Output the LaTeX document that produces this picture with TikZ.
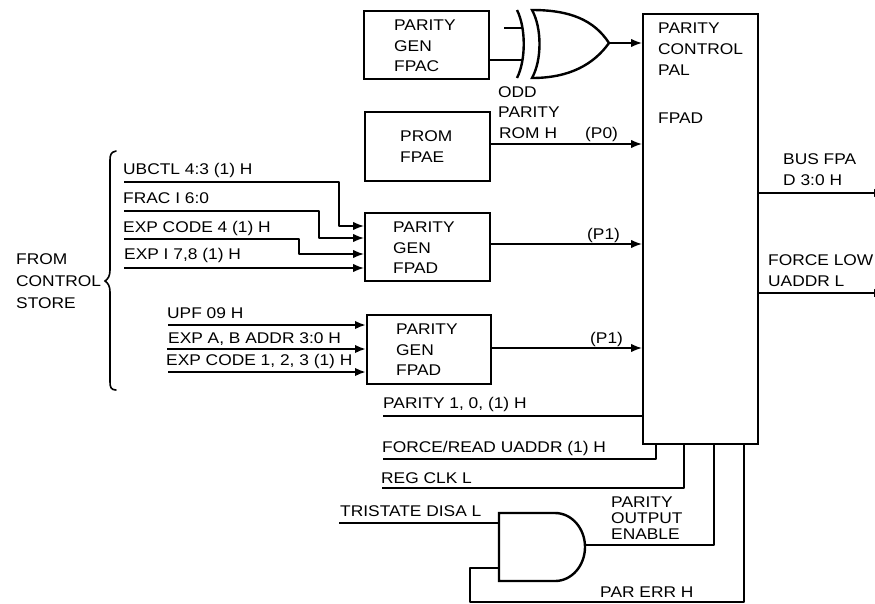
\documentclass[tikz,border=0pt]{standalone}
\usepackage{fontspec}
\setmainfont[FakeStretch=1.12]{Liberation Sans}
\usetikzlibrary{arrows.meta}
\tikzset{
  x=1pt,y=-1pt,
  wire/.style={line width=1.6pt,line join=round},
  hwire/.style={line width=2.2pt,line join=round},
  arr/.style={-{Latex[length=11pt,width=8.5pt]}},
  blockbox/.style={draw,line width=2.4pt,inner sep=0pt},
  lbl/.style={font=\fontsize{15.5}{18}\selectfont,anchor=west,inner sep=0pt,text height=11pt,text depth=0pt},
}
\begin{document}
\begin{tikzpicture}
\useasboundingbox (0,0) rectangle (875,603);
\fill[white] (0,0) rectangle (875,603);
% blocks
\node[blockbox,minimum width=125pt,minimum height=68pt,anchor=north west] (fpac) at (363,10) {};
\node[blockbox,minimum width=125pt,minimum height=69pt,anchor=north west] (fpae) at (364,111) {};
\node[blockbox,minimum width=125pt,minimum height=68pt,anchor=north west] (fpad1) at (364,212) {};
\node[blockbox,minimum width=124pt,minimum height=69pt,anchor=north west] (fpad2) at (366,314) {};
\node[blockbox,minimum width=115pt,minimum height=430pt,anchor=north west] (pal) at (642,13) {};
% block labels
\node[lbl] (t1) at (394,25) {PARITY};
\node[lbl] (t2) at (394,46) {GEN};
\node[lbl] (t3) at (394,66) {FPAC};
\node[lbl] (t4) at (400,136) {PROM};
\node[lbl] (t5) at (400,157) {FPAE};
\node[lbl] (t6) at (393,227) {PARITY};
\node[lbl] (t7) at (393,248) {GEN};
\node[lbl] (t8) at (393,268) {FPAD};
\node[lbl] (t9) at (396,329) {PARITY};
\node[lbl] (t10) at (396,350) {GEN};
\node[lbl] (t11) at (396,370) {FPAD};
\node[lbl] (t12) at (658,28) {PARITY};
\node[lbl] (t13) at (658,49) {CONTROL};
\node[lbl] (t14) at (658,70) {PAL};
\node[lbl] (t15) at (658,118) {FPAD};
% XOR
\coordinate (xa) at (517,10);
\coordinate (xb) at (517,78);
\draw[line width=2.4pt] (xa) .. controls (526,28) and (526,60) .. (xb);
\coordinate (xt) at (609,43);
\draw[line width=2.4pt,line join=miter] (532,10) .. controls (570,10) and (594,20) .. (xt) .. controls (594,64) and (570,78) .. (532,78) .. controls (542,60) and (542,28) .. cycle;
\coordinate (xi1) at (504,28);
\coordinate (xi1e) at (523,28);
\coordinate (xi2e) at (523,60);
\draw[wire] (xi1) -- (xi1e);
\draw[wire] (fpac.east |- xi2e) -- (xi2e);
\draw[wire,arr] (xt) -- (pal.west |- xt);
\draw[wire,arr] (fpae.east |- 0,144) -- (pal.west |- 0,144);
\draw[wire,arr] (fpad1.east |- 0,244) -- (pal.west |- 0,244);
\draw[wire,arr] (fpad2.east |- 0,348) -- (pal.west |- 0,348);
\node[lbl] (o1) at (498,92) {ODD};
\node[lbl] (o2) at (498,112) {PARITY};
\node[lbl] (o3) at (499,133) {ROM H};
\node[lbl] (p0) at (585,133) {(P0)};
\node[lbl] (p1) at (587,234) {(P1)};
\node[lbl] (p2) at (590,338) {(P1)};
% brace
\draw[line width=1.6pt,line cap=round] (116,151) .. controls (111,152) and (110,155) .. (110,160) -- (110,270) .. controls (110,276) and (108,279) .. (105,281) .. controls (108,283) and (110,286) .. (110,292) -- (110,382) .. controls (110,387) and (111,390) .. (116,390);
\node[lbl] (fc1) at (16,259) {FROM};
\node[lbl] (fc2) at (16,281) {CONTROL};
\node[lbl] (fc3) at (16,303) {STORE};
% inputs 1
\coordinate (a1) at (124,182); \coordinate (a2) at (124,211); \coordinate (a3) at (124,239); \coordinate (a4) at (124,268);
\draw[wire,arr] (a1) -- (339,182) -- (339,226) -- (fpad1.west |- 0,226);
\draw[wire,arr] (a2) -- (319,211) -- (319,238) -- (fpad1.west |- 0,238);
\draw[wire,arr] (a3) -- (299,239) -- (299,254) -- (fpad1.west |- 0,254);
\draw[wire,arr] (a4) -- (fpad1.west |- 0,268);
\node[lbl] (l1) at (123,169) {UBCTL 4:3 (1) H};
\node[lbl] (l2) at (123,198) {FRAC I 6:0};
\node[lbl] (l3) at (123,227) {EXP CODE 4 (1) H};
\node[lbl] (l4) at (124,254) {EXP I 7,8 (1) H};
% inputs 2
\coordinate (b1) at (168,325); \coordinate (b2) at (167,349); \coordinate (b3) at (168,372);
\draw[hwire,arr] (b1) -- (fpad2.west |- b1);
\draw[hwire,arr] (b2) -- (fpad2.west |- b2);
\draw[hwire,arr] (b3) -- (fpad2.west |- b3);
\node[lbl] (l5) at (167,313) {UPF 09 H};
\node[lbl] (l6) at (168,338) {EXP A, B ADDR 3:0 H};
\node[lbl] (l7) at (166,360) {EXP CODE 1, 2, 3 (1) H};
% bottom inputs
\coordinate (c1) at (383,416); \coordinate (c2) at (383,459); \coordinate (c3) at (382,488);
\draw[wire] (c1) -- (pal.west |- c1);
\draw[wire] (c2) -- (656,459) -- (656,443);
\draw[wire] (c3) -- (684,488) -- (684,443);
\node[lbl] (l8) at (383,403) {PARITY 1, 0, (1) H};
\node[lbl] (l9) at (382,447) {FORCE/READ UADDR (1) H};
\node[lbl] (l10) at (381,478) {REG CLK L};
% AND
\draw[line width=2.4pt,line join=miter] (499,513) -- (555,513) arc[start angle=-90,end angle=90,x radius=30pt,y radius=-34pt] -- (499,581) -- cycle;
\coordinate (tr) at (339,523);
\draw[wire] (tr) -- (499,523);
\node[lbl] (l11) at (340,511) {TRISTATE DISA L};
\draw[wire] (585,545) -- (714,545) -- (714,443);
\draw[wire] (499,568) -- (470,568) -- (470,602) -- (744,602) -- (744,443);
\node[lbl] (l12) at (611,502) {PARITY};
\node[lbl] (l13) at (611,518) {OUTPUT};
\node[lbl] (l14) at (611,534) {ENABLE};
\node[lbl] (l15) at (600,592) {PAR ERR H};
% outputs
\coordinate (q1) at (885,193);
\coordinate (q2) at (885,293);
\draw[wire,arr] (pal.east |- q1) -- (q1);
\draw[wire,arr] (pal.east |- q2) -- (q2);
\node[lbl] (r1) at (783,159) {BUS FPA};
\node[lbl] (r2) at (783,180) {D 3:0 H};
\node[lbl] (r3) at (768,260) {FORCE LOW};
\node[lbl] (r4) at (768,281) {UADDR L};
\end{tikzpicture}
\end{document}
